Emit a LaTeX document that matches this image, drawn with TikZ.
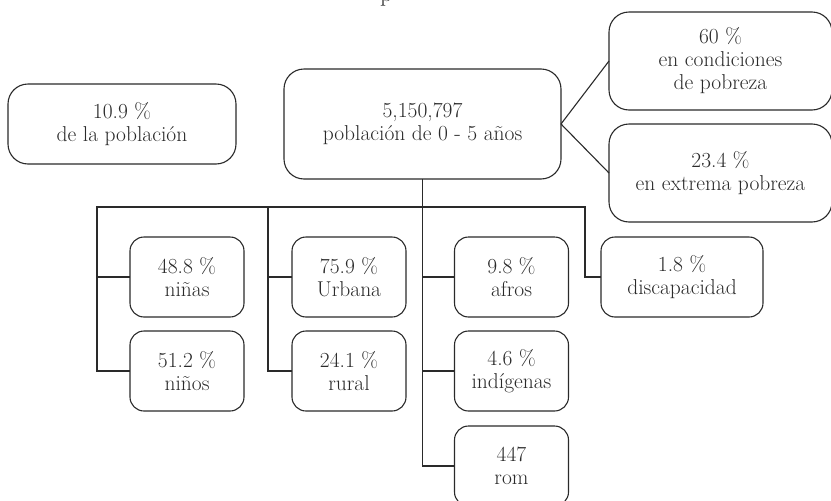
\documentclass[tikz,border=0pt]{standalone}
\usepackage{tikz}
\definecolor{ink}{HTML}{2A2A2A}
\tikzset{
  box/.style={draw=ink, line width=1.1pt, rounded corners=14pt, align=center,
    inner sep=0pt, outer sep=0pt, text=ink, font=\fontsize{21.5}{23}\selectfont},
  bigbox/.style={box, rounded corners=20pt},
  smallbox/.style={box, minimum width=114pt, minimum height=80pt},
  link/.style={draw=ink, line width=1.1pt}
}
\begin{document}
\begin{tikzpicture}[x=1pt,y=-1pt]
\useasboundingbox (0,0) rectangle (831,501);
\node[text=ink, font=\fontsize{24}{24}\selectfont, anchor=base west, inner sep=0pt] (frag) at (380,1.5) {p};
\node[bigbox, minimum width=228pt, minimum height=80pt] (pct) at (122,124) {10.9 \%\\de la población};
\node[bigbox, minimum width=277pt, minimum height=110pt] (main) at (422.5,124) {5,150,797\\población de 0 - 5 años};
\node[bigbox, minimum width=223pt, minimum height=98pt] (pob) at (720.5,61) {60 \%\\en condiciones\\de pobreza};
\node[bigbox, minimum width=223pt, minimum height=98pt] (ext) at (720.5,173) {23.4 \%\\en extrema pobreza};
\node[smallbox] (ninas) at (187,277) {48.8 \%\\niñas};
\node[smallbox] (ninos) at (187,371) {51.2 \%\\niños};
\node[smallbox] (urb) at (349,277) {75.9 \%\\Urbana};
\node[smallbox] (rur) at (349,371) {24.1 \%\\rural};
\node[smallbox] (afro) at (511.5,277) {9.8 \%\\afros};
\node[smallbox] (indi) at (511.5,371) {4.6 \%\\indígenas};
\node[smallbox] (rom) at (511.5,466) {447\\rom};
\node[smallbox, minimum width=162pt] (disc) at (682,277) {1.8 \%\\discapacidad};
\coordinate (busL) at (97,207);
\coordinate (busU) at (268,207);
\coordinate (busR) at (585,207);
\draw[link] (main.east) -- (pob.west);
\draw[link] (main.east) -- (ext.west);
\draw[link] (main.south) |- (rom.west);
\draw[link] (afro.west) -- (main.south |- afro.west);
\draw[link] (indi.west) -- (main.south |- indi.west);
\draw[link] (ninos.west) -| (busL) -- (busR) |- (disc.west);
\draw[link] (ninas.west) -- (busL |- ninas.west);
\draw[link] (busU) |- (rur.west);
\draw[link] (urb.west) -- (busU |- urb.west);
\end{tikzpicture}
\end{document}
